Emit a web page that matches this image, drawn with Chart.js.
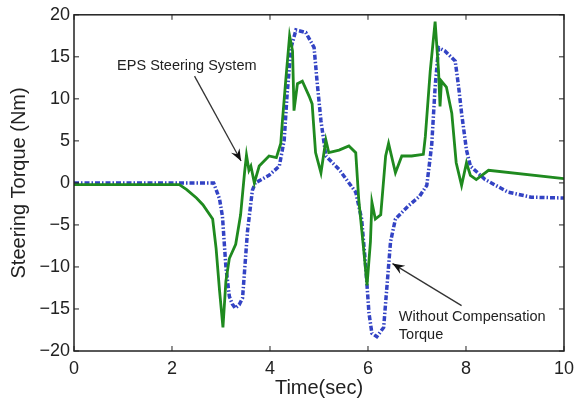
<!DOCTYPE html>
<html>
<head>
<meta charset="utf-8">
<script src="https://cdn.jsdelivr.net/npm/chart.js@4/dist/chart.umd.min.js"></script>
<style>
  html, body { margin: 0; padding: 0; background: #fff; }
  #wrap { width: 581px; height: 406px; }
</style>
</head>
<body>
<div id="wrap"><canvas id="torque-graph"></canvas></div>
<script>
// Time axis (sec) and torque values (Nm)
const epsTime = [0, 2.15, 2.3, 2.5, 2.63, 2.83, 2.9, 2.97, 3.04, 3.1, 3.17, 3.3, 3.4, 3.48, 3.52, 3.57, 3.61, 3.68, 3.78, 3.98, 4.13, 4.22, 4.25, 4.32, 4.4, 4.46, 4.49, 4.56, 4.66, 4.8, 4.86, 4.93, 5.04, 5.14, 5.2, 5.41, 5.61, 5.75, 5.81, 5.91, 5.98, 6.05, 6.08, 6.15, 6.26, 6.36, 6.42, 6.56, 6.69, 6.89, 7.13, 7.17, 7.27, 7.37, 7.44, 7.47, 7.5, 7.6, 7.71, 7.8, 7.91, 8.01, 8.09, 8.21, 8.46, 10];
const epsTorque = [-0.2, -0.2, -0.8, -1.8, -2.6, -4.3, -7.8, -12.8, -17.2, -11.7, -9, -7.3, -3.8, 1.2, 3.3, 1.5, 2.0, 0, 2, 3.2, 3.0, 4.7, 7.1, 12.1, 17.5, 15.7, 8.6, 11.8, 12.1, 10.3, 9.4, 3.6, 1.2, 5.1, 3.6, 3.9, 4.4, 3.6, -1.9, -7.8, -12.2, -7, -2.3, -4.3, -3.8, 3.2, 4.7, 1.2, 3.2, 3.2, 3.4, 5.5, 13.3, 19.2, 13.3, 9.1, 12.1, 11.4, 8.3, 2.4, -0.3, 2.4, 0.9, 0.4, 1.5, 0.5];

const noCompTime = [0, 2.85, 2.97, 3.03, 3.1, 3.17, 3.23, 3.29, 3.37, 3.44, 3.54, 3.64, 3.7, 3.98, 4.19, 4.29, 4.35, 4.43, 4.53, 4.73, 4.9, 4.96, 5.04, 5.14, 5.41, 5.75, 5.87, 5.95, 6.02, 6.08, 6.18, 6.32, 6.38, 6.46, 6.56, 6.83, 7.05, 7.2, 7.3, 7.37, 7.44, 7.57, 7.78, 7.85, 7.91, 8.01, 8.09, 8.39, 8.86, 9.33, 10];
const noCompTorque = [0, 0, -1.9, -4, -10, -13.5, -14.4, -14.9, -14.5, -13.7, -5.8, -0.9, 0, 0.9, 2.0, 5.1, 10.6, 16.1, 18.2, 17.9, 16.1, 12.1, 7.4, 3.2, 1.6, -1.1, -4.3, -9.7, -15.5, -17.9, -18.3, -17.2, -12.8, -7.0, -4.3, -2.7, -1.6, -0.3, 4.5, 11.4, 16.1, 15.7, 14.5, 11.4, 8.3, 3.9, 2.0, 0.4, -1.1, -1.7, -1.8];

const xTicks = [0, 2, 4, 6, 8, 10];
const yTicks = [-20, -15, -10, -5, 0, 5, 10, 15, 20];

// Annotation anchors in data units (time, torque)
const epsLabel = { text: "EPS Steering System", t: 0.88, v: 13.9 };
const epsArrow = { from: [2.46, 12.7], to: [3.41, 2.6] };
const noCompLabel = { lines: ["Without Compensation", "Torque"], t: 6.63, v: [-16.0, -18.1] };
const noCompArrow = { from: [7.91, -14.6], to: [6.5, -9.6] };

const toPoints = (xs, ys) => xs.map((x, i) => ({ x: x, y: ys[i] }));

const fontFamily = "Arial, 'Liberation Sans', Helvetica, sans-serif";
const axisColor = "#222";

function drawArrow(ctx, x1, y1, x2, y2) {
  const ang = Math.atan2(y2 - y1, x2 - x1);
  const len = 13;
  ctx.beginPath();
  ctx.moveTo(x1, y1);
  ctx.lineTo(x2, y2);
  ctx.stroke();
  ctx.beginPath();
  ctx.moveTo(x2, y2);
  ctx.lineTo(x2 - len * Math.cos(ang - 0.38), y2 - len * Math.sin(ang - 0.38));
  ctx.lineTo(x2 - len * 0.6 * Math.cos(ang), y2 - len * 0.6 * Math.sin(ang));
  ctx.lineTo(x2 - len * Math.cos(ang + 0.38), y2 - len * Math.sin(ang + 0.38));
  ctx.closePath();
  ctx.fill();
}

// Matlab-like box with inward ticks, plus the arrow annotations
const boxPlugin = {
  id: "box",
  afterDraw(chart) {
    const { ctx, chartArea: a, scales } = chart;
    const xs = scales.x, ys = scales.y;
    ctx.save();
    ctx.strokeStyle = axisColor;
    ctx.lineWidth = 1.5;
    ctx.strokeRect(a.left, a.top, a.right - a.left, a.bottom - a.top);
    ctx.lineWidth = 1;
    xTicks.forEach((t) => {
      const px = xs.getPixelForValue(t);
      ctx.beginPath();
      ctx.moveTo(px, a.bottom); ctx.lineTo(px, a.bottom - 5);
      ctx.moveTo(px, a.top); ctx.lineTo(px, a.top + 5);
      ctx.stroke();
    });
    yTicks.forEach((v) => {
      const py = ys.getPixelForValue(v);
      ctx.beginPath();
      ctx.moveTo(a.left, py); ctx.lineTo(a.left + 5, py);
      ctx.moveTo(a.right, py); ctx.lineTo(a.right - 5, py);
      ctx.stroke();
    });

    // Annotations
    ctx.fillStyle = "#222";
    ctx.strokeStyle = "#333";
    ctx.lineWidth = 1.3;
    ctx.font = "14.5px " + fontFamily;
    ctx.textBaseline = "middle";
    ctx.textAlign = "left";
    ctx.fillText(epsLabel.text, xs.getPixelForValue(epsLabel.t), ys.getPixelForValue(epsLabel.v));
    noCompLabel.lines.forEach((line, i) => {
      ctx.fillText(line, xs.getPixelForValue(noCompLabel.t), ys.getPixelForValue(noCompLabel.v[i]));
    });
    ctx.fillStyle = "#111";
    [epsArrow, noCompArrow].forEach((ar) => {
      drawArrow(ctx,
        xs.getPixelForValue(ar.from[0]), ys.getPixelForValue(ar.from[1]),
        xs.getPixelForValue(ar.to[0]), ys.getPixelForValue(ar.to[1]));
    });
    ctx.restore();
  },
};

const ctx = document.getElementById("torque-graph");
new Chart(ctx, {
  type: "line",
  data: {
    datasets: [
      {
        label: "EPS Steering System",
        data: toPoints(epsTime, epsTorque),
        borderColor: "#1f8a1f",
        borderWidth: 2.8,
        order: 1,
      },
      {
        label: "Without Compensation Torque",
        data: toPoints(noCompTime, noCompTorque),
        borderColor: "#3343c4",
        borderWidth: 3.5,
        borderDash: [5, 2, 1.5, 2],
        order: 2,
      },
    ],
  },
  options: {
    animation: false,
    responsive: true,
    maintainAspectRatio: false,
    pointRadius: 0,
    tension: 0,
    layout: { padding: { top: 10, right: 15, left: 0, bottom: 0 } },
    plugins: {
      legend: { display: false },
      tooltip: { enabled: false },
    },
    scales: {
      x: {
        type: "linear",
        min: 0,
        max: 10,
        afterBuildTicks: (s) => { s.ticks = xTicks.map((v) => ({ value: v })); },
        afterFit: (s) => { s.height = 55; },
        grid: { display: false, drawTicks: false },
        border: { display: false },
        ticks: {
          color: axisColor,
          padding: 7,
          maxRotation: 0,
          font: { family: fontFamily, size: 18 },
        },
        title: {
          display: true,
          text: "Time(sec)",
          color: axisColor,
          padding: { top: 0, bottom: 6 },
          font: { family: fontFamily, size: 20 },
        },
      },
      y: {
        type: "linear",
        min: -20,
        max: 20,
        afterBuildTicks: (s) => { s.ticks = yTicks.map((v) => ({ value: v })); },
        afterFit: (s) => { s.width = 74; },
        grid: { display: false, drawTicks: false },
        border: { display: false },
        ticks: {
          color: axisColor,
          padding: 4,
          font: { family: fontFamily, size: 18 },
          callback: (v) => String(v).replace("-", "\u2212"),
        },
        title: {
          display: true,
          text: "Steering Torque (Nm)",
          color: axisColor,
          padding: { top: 7, bottom: 0 },
          font: { family: fontFamily, size: 20 },
        },
      },
    },
  },
  plugins: [boxPlugin],
});
</script>
</body>
</html>
